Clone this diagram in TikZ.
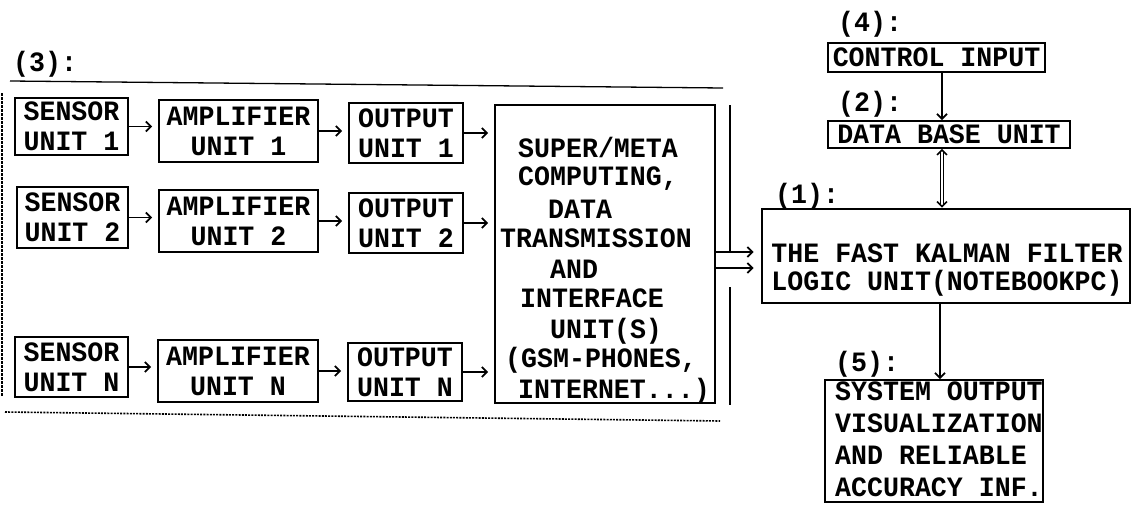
\documentclass[tikz,border=0pt]{standalone}
\usepackage{fontspec}
\setmainfont{Liberation Mono}[FakeStretch=0.95]
\usetikzlibrary{arrows.meta}
\newcommand\mfont{\fontsize{28}{30}\selectfont\bfseries}
\newcommand\kfont{\fontsize{28}{28}\selectfont\bfseries}
\begin{document}
\begin{tikzpicture}[x=1pt,y=-1pt,
  box/.style={draw, line width=1.8pt, inner sep=0pt, align=center, font=\mfont},
  bigbox/.style={draw, line width=2.8pt, inner sep=0pt},
  txt/.style={inner sep=0pt, font=\mfont},
  lbl/.style={inner sep=0pt, anchor=west, font=\mfont},
  arr/.style={line width=1.8pt, -{Straight Barb[length=5pt,width=10pt,line width=1.8pt]}},
  dbl/.style={double, double distance=2.5pt, line width=1pt,
    {Straight Barb[length=5pt,width=10pt,line width=1.5pt]}-{Straight Barb[length=5pt,width=10pt,line width=1.5pt]}},
  frameline/.style={line width=1.3pt}]
\useasboundingbox (0,0) rectangle (1136,506);

% group (3) frame
\node[lbl] (l3) at (13,64.5) {(3):};
\draw[frameline] (10,81) -- (723,88);
\draw[frameline, dash pattern=on 3pt off 1pt] (2,93) -- (2,397);
\draw[line width=1.6pt, dash pattern=on 2pt off 1.2pt] (5,412) -- (720,421);
\draw[frameline] (730,105) -- (730,252);
\draw[frameline] (730,287) -- (730,405);

% row 1
\node[box, minimum width=113pt, minimum height=57pt] (s1) at (71.5,126.5) {SENSOR\\UNIT 1};
\node[box, minimum width=159pt, minimum height=62pt] (a1) at (238.5,131) {AMPLIFIER\\UNIT 1};
\node[box, minimum width=114pt, minimum height=60pt] (o1) at (406,133) {OUTPUT\\UNIT 1};
% row 2
\node[box, minimum width=111pt, minimum height=61pt] (s2) at (72.5,217.5) {SENSOR\\UNIT 2};
\node[box, minimum width=159pt, minimum height=62pt] (a2) at (238.5,221) {AMPLIFIER\\UNIT 2};
\node[box, minimum width=114pt, minimum height=60pt] (o2) at (406,223) {OUTPUT\\UNIT 2};
% row N
\node[box, minimum width=113pt, minimum height=60pt] (sn) at (71.5,367) {SENSOR\\UNIT N};
\node[box, minimum width=160pt, minimum height=62pt] (an) at (238,371) {AMPLIFIER\\UNIT N};
\node[box, minimum width=114pt, minimum height=58pt] (on) at (405,372) {OUTPUT\\UNIT N};

% super box
\node[box, minimum width=220pt, minimum height=298pt] (super) at (605,254) {};
\node[txt, anchor=base west] (sp1) at (518,157) {SUPER/META};
\node[txt, anchor=base west] (sp2) at (518,185) {COMPUTING,};
\node[txt, anchor=base west] (sp3) at (548,218) {DATA};
\node[txt, anchor=base west] (sp4) at (500,247) {TRANSMISSION};
\node[txt, anchor=base west] (sp5) at (550,278) {AND};
\node[txt, anchor=base west] (sp6) at (520,307) {INTERFACE};
\node[txt, anchor=base west] (sp7) at (550,338) {UNIT(S)};
\node[txt, anchor=base west] (sp8) at (505,367) {(GSM-PHONES,};
\node[txt, anchor=base west] (sp9) at (518,398) {INTERNET...)};

% row arrows
\foreach \a/\b in {s1/a1,a1/o1,o1/super,s2/a2,a2/o2,o2/super,sn/an,an/on,on/super}
  \draw[arr, shorten >=6pt] (\a.east) -- (\a.east -| \b.west);

% right column
\node[lbl] (l4) at (838,24.5) {(4):};
\node[box, minimum width=217pt, minimum height=29pt] (ci) at (936.5,57.5) {CONTROL INPUT};
\node[lbl] (l2) at (838,104.5) {(2):};
\node[box, minimum width=242pt, minimum height=27pt] (db) at (949,134.5) {DATA BASE UNIT};
\node[lbl] (l1) at (775,196.5) {(1):};
\node[bigbox, minimum width=368pt, minimum height=94pt] (kf) at (946,256) {};
\node[inner sep=0pt, align=center, font=\kfont] (kft) at (947,270)
  {THE FAST KALMAN FILTER\\LOGIC UNIT(NOTEBOOKPC)};
\node[lbl] (l5) at (835,364) {(5):};
\node[box, minimum width=218pt, minimum height=122pt] (sys) at (934,441) {};
\node[txt, anchor=base west] (sy1) at (835,400) {SYSTEM OUTPUT};
\node[txt, anchor=base west] (sy2) at (835,432) {VISUALIZATION};
\node[txt, anchor=base west] (sy3) at (835,464) {AND RELIABLE};
\node[txt, anchor=base west] (sy4) at (835,496) {ACCURACY INF.};

\coordinate (xc) at (942,0);
\coordinate (xs) at (940,0);
\coordinate (yu) at (0,252);
\coordinate (yl) at (0,268);
\draw[arr] (xc |- ci.south) -- (xc |- db.north);
\draw[dbl] (xc |- db.south) -- (xc |- kf.north);
\draw[arr] (xs |- kf.south) -- (xs |- sys.north);
\draw[arr, shorten >=7pt] (super.east |- yu) -- (kf.west |- yu);
\draw[arr, shorten >=7pt] (super.east |- yl) -- (kf.west |- yl);
\end{tikzpicture}
\end{document}
